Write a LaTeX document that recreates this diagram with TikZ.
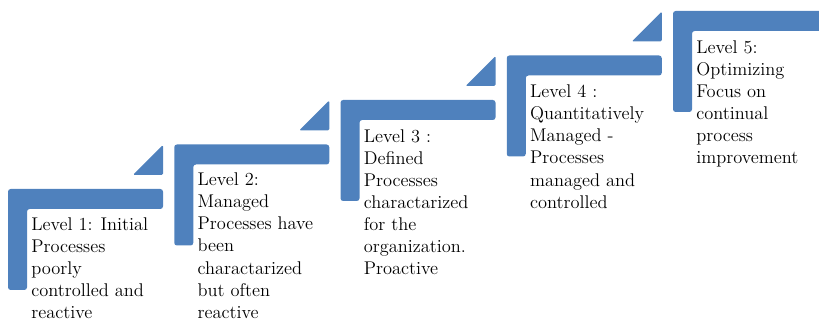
\documentclass[tikz,border=0pt]{standalone}
\usepackage{tikz}
\usetikzlibrary{positioning}
\definecolor{lvlblue}{RGB}{79,129,189}

\begin{document}
\begin{tikzpicture}[
  x=0.75pt, y=-0.75pt,
  stepbar/.style={fill=lvlblue, rounded corners=2pt},
  steptip/.style={fill=lvlblue, rounded corners=1pt},
  lvltext/.style={anchor=north west, inner sep=0pt, align=left, text=black,
                  font=\rmfamily\fontsize{13.8}{16.6}\selectfont},
]
\clip (0,0) rectangle (819,324);
% the five steps, each one up and to the right of the last
\foreach \i in {0,...,4} {
  \pgfmathsetmacro{\sx}{8+166.25*\i}
  \pgfmathsetmacro{\sy}{189-44.5*\i}
  \fill[stepbar] (\sx,\sy) -- ++(155,0) -- ++(0,20) -- ++(-136,0)
        -- ++(0,81) -- ++(-19,0) -- cycle;
}
\foreach \i in {0,...,3} {
  \pgfmathsetmacro{\sx}{8+166.25*\i}
  \pgfmathsetmacro{\sy}{189-44.5*\i}
  \fill[steptip] (\sx+125,\sy-14) -- (\sx+155,\sy-44) -- (\sx+155,\sy-14) -- cycle;
}
\node[lvltext] (lvl1) at (31,217) {Level 1: Initial\\Processes\\poorly\\controlled and\\reactive};
\node[lvltext] (lvl2) at (197.25,172.5) {Level 2:\\Managed\\Processes have\\been\\charactarized\\but often\\reactive};
\node[lvltext] (lvl3) at (363.5,129) {Level 3 :\\Defined\\Processes\\charactarized\\for the\\organization.\\Proactive};
\node[lvltext] (lvl4) at (529.75,84.5) {Level 4 :\\Quantitatively\\Managed -\\Processes\\managed and\\controlled};
\node[lvltext] (lvl5) at (696,40) {Level 5:\\Optimizing\\Focus on\\continual\\process\\improvement};
\end{tikzpicture}
\end{document}
